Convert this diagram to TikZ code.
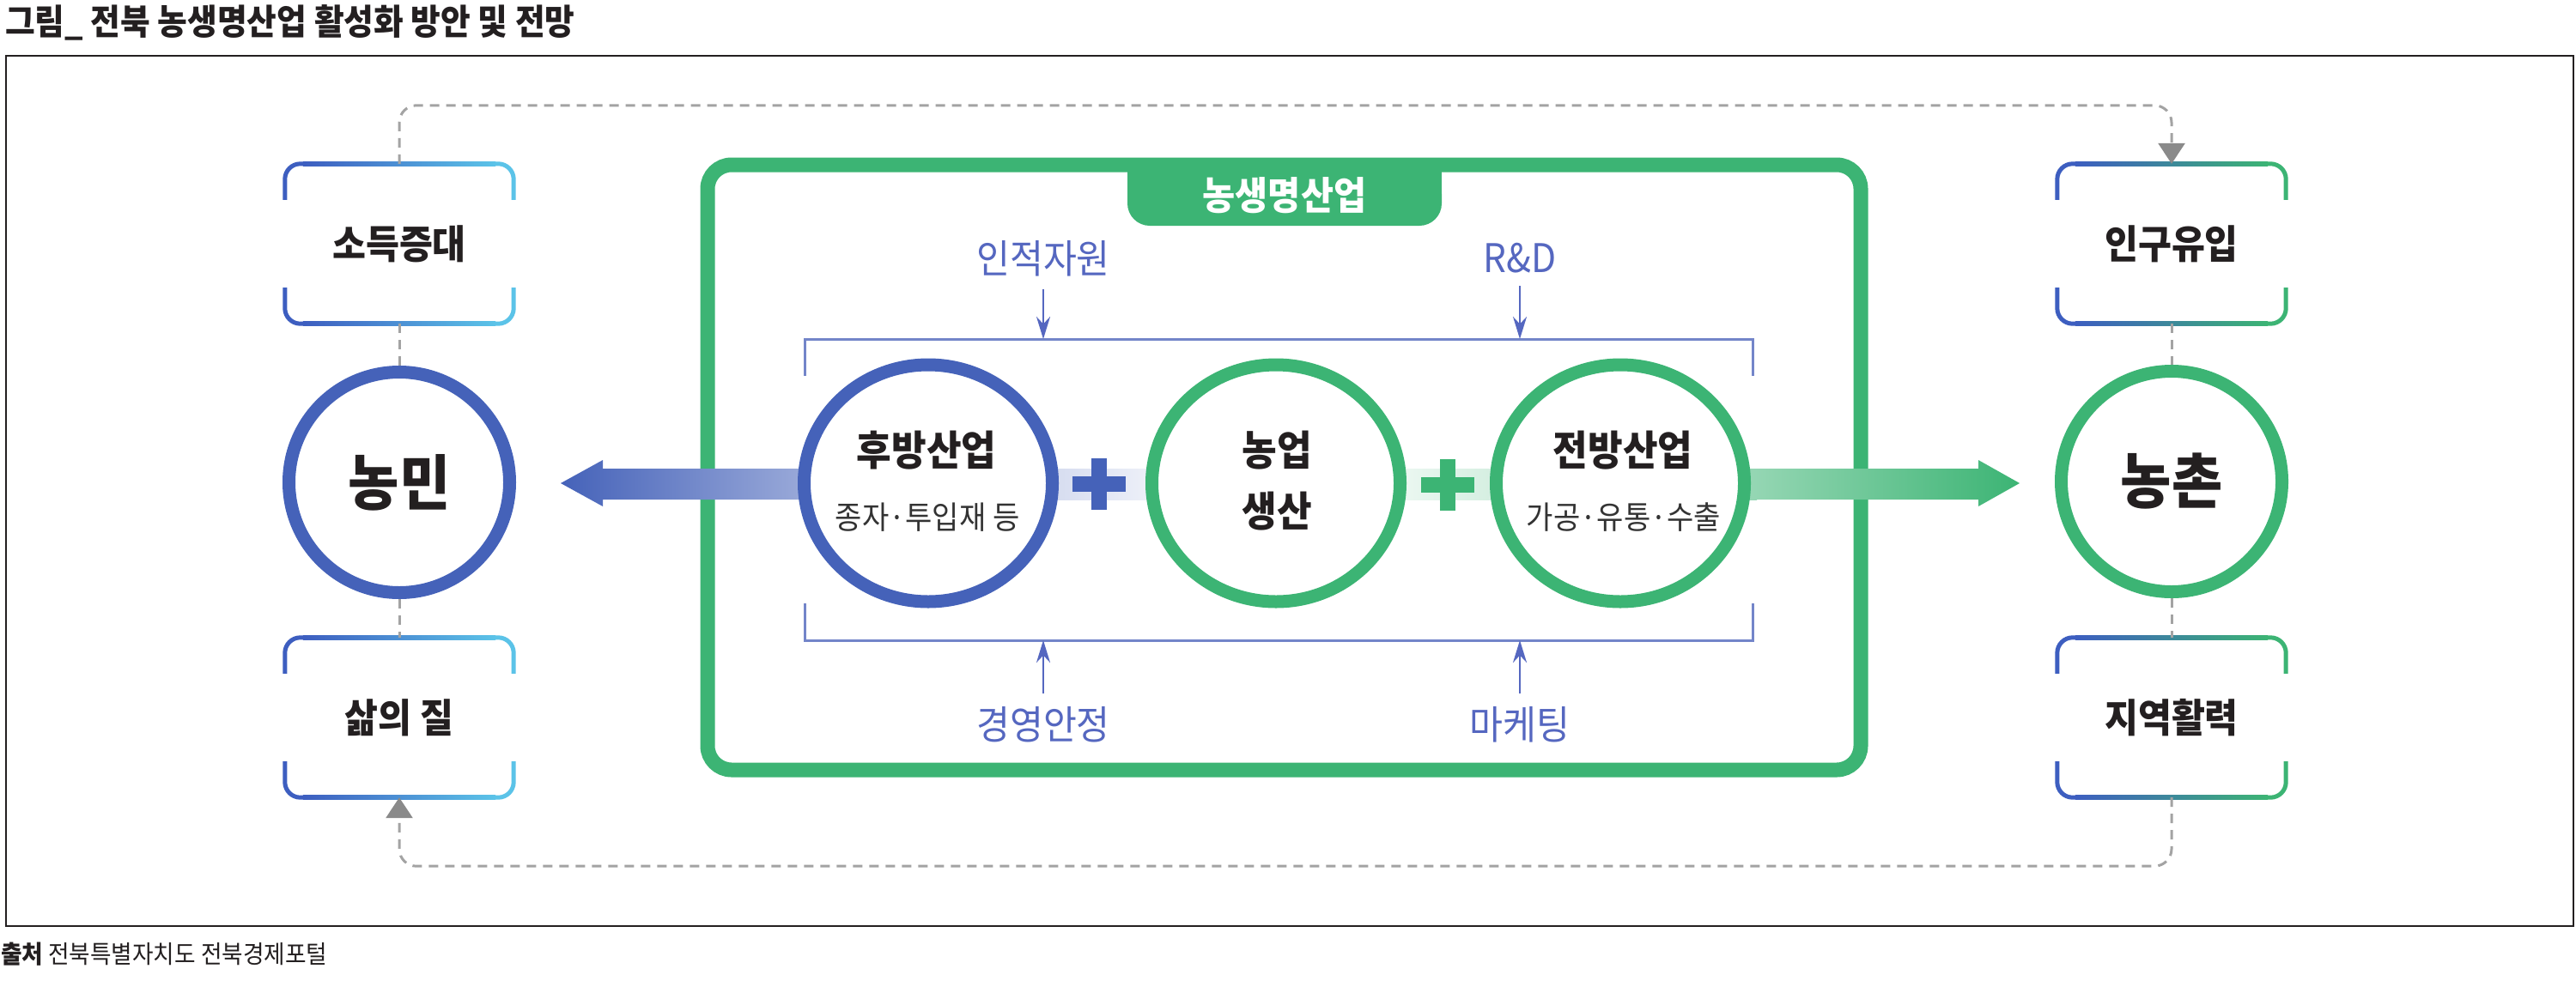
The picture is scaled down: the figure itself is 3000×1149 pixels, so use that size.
\documentclass[tikz,border=0pt]{standalone}
\usepackage{fontspec}
\setmainfont{Noto Sans CJK KR}[FakeStretch=0.92]
\usetikzlibrary{shapes.geometric,arrows.meta}
\definecolor{cblue}{HTML}{4562B9}
\definecolor{cgreen}{HTML}{3CB474}
\definecolor{clab}{HTML}{5567C0}
\definecolor{cbrk}{HTML}{7385C9}
\definecolor{cgray}{HTML}{A3A3A3}
\definecolor{carr}{HTML}{8A8A8A}
\definecolor{ctext}{HTML}{231F20}
\definecolor{csub}{HTML}{333333}
\definecolor{cframe}{HTML}{231F20}
\definecolor{lblue}{HTML}{3D5EC0}
\definecolor{lcyan}{HTML}{5BC3E8}
\definecolor{rgreen}{HTML}{3CB474}
\newcommand\brkpair[3]{%
  \draw[#2, line width=5pt, rounded corners=18pt] ([yshift=-42pt]#1.north west) |- ([xshift=22pt]#1.north west);
  \draw[#3, line width=5pt, rounded corners=18pt] ([yshift=-42pt]#1.north east) |- ([xshift=-22pt]#1.north east);
  \shade[left color=#2, right color=#3] ([xshift=21pt,yshift=2.5pt]#1.north west) rectangle ([xshift=-21pt,yshift=-2.5pt]#1.north east);
  \draw[#2, line width=5pt, rounded corners=18pt] ([yshift=42pt]#1.south west) |- ([xshift=22pt]#1.south west);
  \draw[#3, line width=5pt, rounded corners=18pt] ([yshift=42pt]#1.south east) |- ([xshift=-22pt]#1.south east);
  \shade[left color=#2, right color=#3] ([xshift=21pt,yshift=2.5pt]#1.south west) rectangle ([xshift=-21pt,yshift=-2.5pt]#1.south east);
}
\tikzset{
  dashline/.style={draw=cgray, line width=3pt, dash pattern=on 11pt off 8pt},
  gtip/.style={-{Triangle[length=24pt,width=31pt,color=carr]}},
  sarrow/.style={draw=clab, line width=2.5pt, -{Stealth[length=26pt,width=16pt]}},
  lab/.style={font=\fontsize{46}{46}\selectfont, text=clab, inner sep=0pt, outer ysep=15pt},
  ttl/.style={font=\fontsize{48}{48}\selectfont\bfseries, text=ctext, inner sep=0pt},
  subt/.style={font=\fontsize{37}{37}\selectfont, text=csub, inner sep=0pt},
  brk/.style={minimum width=266pt, minimum height=186pt, inner sep=0pt, font=\fontsize{46}{46}\selectfont\bfseries, text=ctext},
  bigc/.style={ellipse, line width=15pt, fill=white, inner sep=0pt, minimum width=257pt, minimum height=257pt, font=\fontsize{70}{70}\selectfont\bfseries, text=ctext},
  midc/.style={ellipse, line width=15pt, fill=white, inner sep=0pt, minimum width=289pt, minimum height=276pt},
}
\begin{document}
\begin{tikzpicture}[x=1pt,y=-1pt]
\useasboundingbox (0,0) rectangle (3000,1149);
\fill[white] (0,0) rectangle (3000,1149);
% title and source
\node[anchor=west, inner sep=0pt, font=\fontsize{41}{41}\selectfont\bfseries, text=ctext] (title) at (6,26) {그림\_ 전북 농생명산업 활성화 방안 및 전망};
\draw[cframe, line width=2.5pt] (7,65) rectangle (2997,1079);
\node[anchor=west, inner sep=0pt, font=\fontsize{29}{29}\selectfont, text=ctext] (src) at (1,1112) {{\bfseries 출처} 전북특별자치도 전북경제포털};
% green frame and tab
\node[draw=cgreen, line width=17pt, rounded corners=28pt, minimum width=1343pt, minimum height=705pt, inner sep=0pt] (frame) at (1495.5,544.5) {};
\fill[cgreen] (1313,190) rectangle (1679,232);
\fill[cgreen, rounded corners=26pt] (1313,200) -- (1313,263) -- (1679,263) -- (1679,200) -- cycle;
\node[text=white, font=\fontsize{45}{45}\selectfont\bfseries, inner sep=0pt] (tab) at (1496,228) {농생명산업};
% inner bracket
\coordinate (bt1) at (1215,395); \coordinate (bt2) at (1770,395);
\coordinate (bb1) at (1215,746); \coordinate (bb2) at (1770,746);
\draw[cbrk, line width=3pt] (937,438) |- (2041,395) -- (2041,438);
\draw[cbrk, line width=3pt] (937,703) |- (2041,746) -- (2041,703);
\node[lab] (injeok) at (1215,301) {인적자원};
\node[lab] (rnd) at (1770,301) {R\&D};
\node[lab] (gyeong) at (1215,844) {경영안정};
\node[lab] (mkt) at (1770,844) {마케팅};
\draw[sarrow] (injeok) -- (bt1);
\draw[sarrow] (rnd) -- (bt2);
\draw[sarrow] (gyeong) -- (bb1);
\draw[sarrow] (mkt) -- (bb2);
% big arrows
\shade[left color=cblue, right color=cblue!55] (653,563) -- (702,536) -- (702,546) -- (935,546) -- (935,582) -- (702,582) -- (702,590) -- cycle;
\shade[left color=cblue!55, right color=cblue!10] (934,546) rectangle (1335,582);
\shade[left color=cgreen!10, right color=cgreen!55] (1632,546) rectangle (2046,582);
\shade[left color=cgreen!55, right color=cgreen] (2045,546) -- (2304,546) -- (2304,536) -- (2352,563) -- (2304,590) -- (2304,582) -- (2045,582) -- cycle;
% circles
\node[bigc, draw=cblue] (nongmin) at (465,562) {농민};
\node[bigc, draw=cgreen] (nongchon) at (2529,561) {농촌};
\node[midc, draw=cblue] (hubang) at (1081,563) {};
\node[midc, draw=cgreen] (nongup) at (1486,563) {};
\node[midc, draw=cgreen] (jeonbang) at (1887,563) {};
% plus signs
\fill[cblue] (1249,555) rectangle (1311,573);
\fill[cblue] (1271,534) rectangle (1289,594);
\fill[cgreen] (1655,556) rectangle (1717,574);
\fill[cgreen] (1677,535) rectangle (1695,595);
% circle texts
\node[ttl] (hubang1) at (1079,525) {후방산업};
\node[subt] (hubang2) at (1080,603) {종자·투입재 등};
\node[ttl] (nongup1) at (1487,525) {농업};
\node[ttl] (nongup2) at (1487,596) {생산};
\node[ttl] (jeon1) at (1890,525) {전방산업};
\node[subt] (jeon2) at (1891,603) {가공·유통·수출};
% side bracket boxes
\node[brk] (sodeuk) at (465,284) {소득증대};
\node[brk] (samui) at (465,836) {삶의 질};
\node[brk] (ingu) at (2529,284) {인구유입};
\node[brk] (jiyeok) at (2529,836) {지역활력};
\brkpair{sodeuk}{lblue}{lcyan}
\brkpair{samui}{lblue}{lcyan}
\brkpair{ingu}{lblue}{rgreen}
\brkpair{jiyeok}{lblue}{rgreen}
% dashed links
\draw[dashline] (sodeuk.south) -- (nongmin.north);
\draw[dashline] (nongmin.south) -- (samui.north);
\draw[dashline] (ingu.south) -- (nongchon.north);
\draw[dashline] (nongchon.south) -- (jiyeok.north);
\draw[dashline, gtip, rounded corners=20pt] (sodeuk.north) -- ++(0,-68) -| (ingu.north);
\draw[dashline, gtip, rounded corners=20pt] (jiyeok.south) -- ++(0,80) -| (samui.south);
\end{tikzpicture}
\end{document}
